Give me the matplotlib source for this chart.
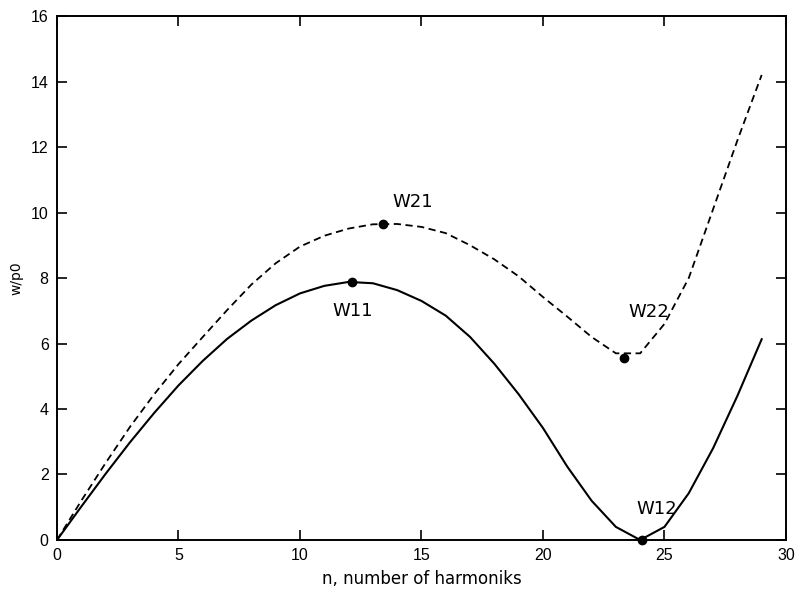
import numpy as np
import matplotlib.pyplot as plt

# harmonic number
n = np.arange(0, 30)

# first mode (solid) and second mode (dashed), w/p0
w1 = [0.0, 1.02, 2.02, 2.98, 3.88, 4.72, 5.47, 6.14, 6.70, 7.17,
      7.53, 7.76, 7.88, 7.84, 7.63, 7.30, 6.85, 6.20, 5.38, 4.45,
      3.42, 2.24, 1.20, 0.40, 0.0, 0.40, 1.43, 2.80, 4.40, 6.13]
w2 = [0.0, 1.20, 2.35, 3.45, 4.45, 5.37, 6.20, 7.02, 7.80, 8.45,
      8.96, 9.29, 9.51, 9.64, 9.65, 9.56, 9.37, 9.00, 8.57, 8.05,
      7.42, 6.82, 6.20, 5.70, 5.70, 6.60, 8.00, 10.10, 12.20, 14.20]

# extrema picked out on the curves
ext_names = ['W11', 'W21', 'W12', 'W22']
ext_n = [12.13, 13.41, 24.07, 23.33]
ext_w = [7.88, 9.65, 0.0, 5.55]
label_n = [12.15, 14.65, 24.7, 24.37]
label_w = [7.0, 10.33, 0.95, 6.97]

fig = plt.figure(figsize=(7.96, 5.89), dpi=100)
ax = fig.add_axes([0.0716, 0.0832, 0.9158, 0.8896])

ax.plot(n, w1, color='black', lw=1.5)
ax.plot(n, w2, color='black', lw=1.3, linestyle=(0, (4, 2.5)))
ax.plot(ext_n, ext_w, 'o', color='black', ms=6, clip_on=False, zorder=5)

for name, x, y in zip(ext_names, label_n, label_w):
    ax.text(x, y, name, fontsize=13, ha='center', va='center',
            family='DejaVu Sans')

ax.set_xlim(0, 30)
ax.set_ylim(0, 16)
ax.set_xticks(range(0, 31, 5))
ax.set_yticks(range(0, 17, 2))
ax.tick_params(direction='in', length=7, width=1.2, top=True, right=True,
               labelsize=11.5, pad=6)
for lab in ax.get_xticklabels() + ax.get_yticklabels():
    lab.set_family('Liberation Sans')
for s in ax.spines.values():
    s.set_linewidth(1.4)

ax.set_xlabel('n, number of harmoniks', fontsize=12, labelpad=5)
ax.set_ylabel('w/p0', fontsize=10, labelpad=5)

fig.savefig('out.png', dpi=100)
